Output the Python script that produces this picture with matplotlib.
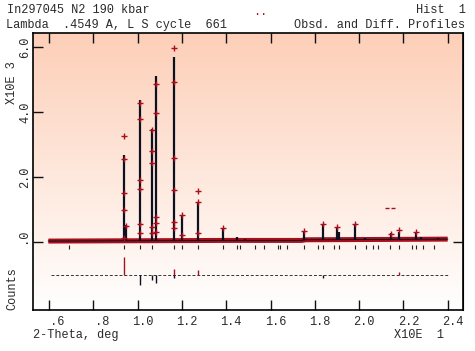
import numpy as np
import matplotlib.pyplot as plt
import matplotlib.transforms as mtransforms

plt.rcParams['font.family'] = 'Liberation Mono'
plt.rcParams['font.size'] = 8.6
plt.rcParams['text.color'] = '#2a2a2a'
plt.rcParams['xtick.color'] = '#111111'
plt.rcParams['ytick.color'] = '#111111'
plt.rcParams['xtick.labelcolor'] = '#2a2a2a'
plt.rcParams['ytick.labelcolor'] = '#2a2a2a'

# background (obs/calc baseline), x in units of 10 deg, y in 1000 counts
bg_x = [0.597, 1.00, 1.40, 1.74, 1.76, 2.10, 2.40]
bg_y = [0.03, 0.04, 0.05, 0.05, 0.07, 0.08, 0.09]

# calculated peaks
peak_x = [0.940, 0.946, 1.012, 1.066, 1.084, 1.166, 1.200, 1.271, 1.387, 1.447, 1.485,
          1.751, 1.835, 1.901, 1.910, 1.982, 2.027, 2.143, 2.180, 2.256, 2.280, 2.356]
peak_calc = [2.68, 0.52, 4.37, 3.48, 5.11, 5.68, 0.80, 1.24, 0.40, 0.15, 0.10,
             0.31, 0.52, 0.43, 0.30, 0.52, 0.12, 0.28, 0.30, 0.28, 0.15, 0.12]

# observed points off the baseline
obs_x = [0.940, 0.940, 0.940, 0.940, 0.946, 0.940,
         1.012, 1.012, 1.012, 1.012, 1.012, 1.012,
         1.066, 1.066, 1.066, 1.066, 1.066,
         1.084, 1.084, 1.084, 1.084, 1.084,
         1.166, 1.166, 1.166, 1.166, 1.166, 1.166,
         1.200, 1.200, 1.271, 1.271, 1.271,
         1.387, 1.751, 1.835, 1.901, 1.982, 2.143, 2.180, 2.256]
obs_y = [3.26, 2.54, 1.52, 1.00, 0.50, 0.13,
         4.27, 3.78, 1.91, 1.62, 0.57, 0.28,
         3.45, 2.80, 2.42, 0.47, 0.29,
         4.85, 3.96, 0.78, 0.59, 0.32,
         5.98, 4.91, 2.58, 1.60, 0.62, 0.42,
         0.83, 0.22, 1.57, 1.24, 0.27,
         0.42, 0.35, 0.55, 0.45, 0.55, 0.25, 0.37, 0.30]

# stray points
stray_x = [2.124, 2.154]
stray_y = [1.06, 1.06]

# reflection markers
refl_x = [0.692, 0.940, 1.011, 1.066, 1.166, 1.202, 1.271, 1.387, 1.450, 1.462,
          1.530, 1.572, 1.633, 1.643, 1.676, 1.751, 1.816, 1.836, 1.887, 1.909,
          1.981, 2.031, 2.061, 2.084, 2.140, 2.180, 2.237, 2.256, 2.287, 2.340]

# difference curve
diff_level = -1.0
diff_range = [0.61, 2.40]
diff_x = [0.940, 1.012, 1.066, 1.084, 1.166, 1.166, 1.271, 1.836, 2.180]
diff_y = [-0.46, -1.32, -1.17, -1.25, -0.84, -1.11, -0.86, -1.11, -0.92]

xticks = [0.6, 0.8, 1.0, 1.2, 1.4, 1.6, 1.8, 2.0, 2.2, 2.4]
xlabels = [' .6', ' .8', '1.0', '1.2', '1.4', '1.6', '1.8', '2.0', '2.2', '2.4']
yticks = [0, 2, 4, 6]
ylabels = [' .0', '2.0', '4.0', '6.0']

red = '#a80f1c'
dark = '#0c1020'

fig = plt.figure(figsize=(4.75, 3.51), dpi=100)
ax = fig.add_axes([33 / 475, 1 - 310 / 351, 430 / 475, 277 / 351])
xlim = (0.5278, 2.469)
ylim = (-2.09, 6.43)
ax.set_xlim(xlim)
ax.set_ylim(ylim)

# peach to white gradient
top = np.array([253, 207, 184]) / 255.0
t = np.linspace(0, 1, 256)[:, None]
grad = top * (1 - t) + np.ones(3) * t
ax.imshow(grad[:, None, :], extent=[xlim[0], xlim[1], ylim[0], ylim[1]],
          aspect='auto', origin='upper', zorder=0)

# observed band + calc line
ax.plot(bg_x, bg_y, color=red, lw=3.6, solid_capstyle='butt', zorder=2)
ax.plot(bg_x, bg_y, color=dark, lw=0.7, zorder=3)
base = np.interp(peak_x, bg_x, bg_y)
ax.vlines(peak_x, base, peak_calc, color=dark, lw=1.6, zorder=3)
ax.plot(obs_x, obs_y, '+', color=red, ms=3.8, mew=1.0, zorder=4)
ax.plot(stray_x, stray_y, '_', color=red, ms=3, mew=1.0, zorder=4)

# reflection ticks
ax.vlines(refl_x, -0.09, -0.22, color='#222222', lw=0.8, zorder=3)

# difference
ax.plot(diff_range, [diff_level, diff_level], color='#333333', lw=0.7,
        ls=(0, (3, 2)), zorder=3)
up = [v > diff_level for v in diff_y]
ax.vlines([x for x, u in zip(diff_x, up) if u], diff_level,
          [v for v, u in zip(diff_y, up) if u], color=red, lw=1.0, zorder=3)
ax.vlines([x for x, u in zip(diff_x, up) if not u], diff_level,
          [v for v, u in zip(diff_y, up) if not u], color=dark, lw=1.0, zorder=3)

# axes styling
for s in ax.spines.values():
    s.set_linewidth(1.2)
ax.set_xticks(xticks)
ax.set_xticklabels(xlabels)
ax.set_yticks(yticks)
ax.set_yticklabels(ylabels, rotation=90, va='center')
ax.tick_params(axis='x', direction='in', length=7, width=1, top=True, pad=4)
ax.tick_params(axis='y', direction='in', length=7, width=1, pad=1)
off = mtransforms.ScaledTranslation(5 / 100, 0, fig.dpi_scale_trans)
for lab in ax.get_xticklabels():
    lab.set_transform(lab.get_transform() + off)
sec = ax.secondary_yaxis('right')
sec.set_yticks([0])
sec.set_yticklabels([])
sec.tick_params(direction='in', length=7, width=1)

# texts
fig.text(7 / 475, 1 - 10 / 351, 'In297045 N2 190 kbar', va='center')
fig.text(466 / 475, 1 - 10 / 351, 'Hist  1', va='center', ha='right')
fig.text(260 / 475, 1 - 12 / 351, '..', va='center', ha='center', color=red)
fig.text(6 / 475, 1 - 25 / 351, 'Lambda  .4549 A, L S cycle  661', va='center')
fig.text(465 / 475, 1 - 25 / 351, 'Obsd. and Diff. Profiles', va='center', ha='right')
fig.text(12 / 475, 1 - 83 / 351, 'X10E 3', rotation=90, va='center', ha='center')
fig.text(12 / 475, 1 - 289 / 351, 'Counts', rotation=90, va='center', ha='center')
fig.text(33 / 475, 1 - 335 / 351, '2-Theta, deg', va='center')
fig.text(394 / 475, 1 - 335 / 351, 'X10E  1', va='center')

fig.savefig('out.png', dpi=100)
